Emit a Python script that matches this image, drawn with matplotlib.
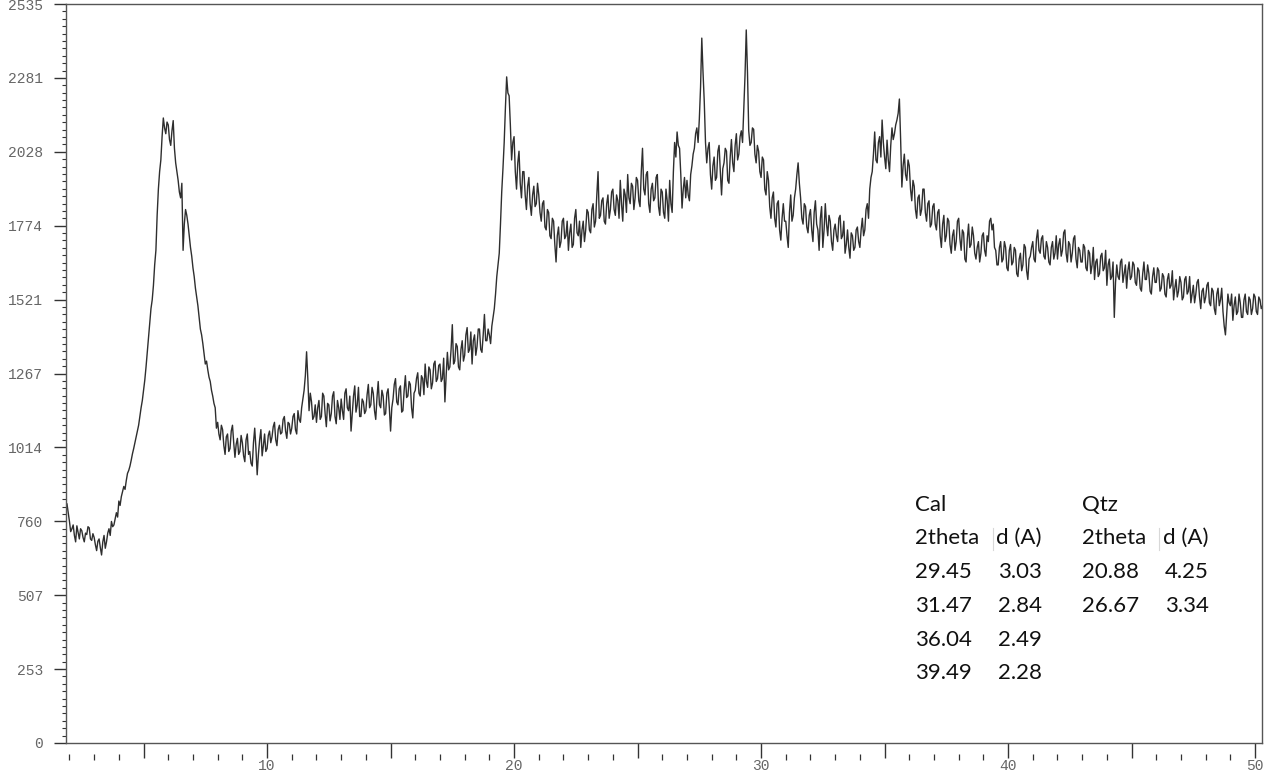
import numpy as np
import matplotlib
matplotlib.use('Agg')
import matplotlib.pyplot as plt
from matplotlib.ticker import FixedLocator, MultipleLocator

# XRD scan, 2theta from 1.9 deg in 0.05 deg steps (counts)
start_2theta = 1.9
step_2theta = 0.05

counts_02_10 = [
    820, 790,
    760, 725, 735, 748, 712, 690, 745, 722, 700, 735, 728, 705, 690, 720, 715, 742, 738, 700, 695, 718,
    705, 680, 660, 692, 700, 670, 645, 690, 712, 668, 690, 720, 735, 712, 760, 742, 748, 770, 790, 775,
    830, 815, 845, 862, 880, 870, 900, 925, 935, 950, 970, 992, 1010, 1030, 1050, 1070, 1090, 1120, 1150, 1175,
    1210, 1245, 1290, 1340, 1390, 1440, 1490, 1520, 1570, 1640, 1690, 1810, 1900, 1960, 2000, 2080, 2144, 2110, 2090, 2130,
    2120, 2070, 2050, 2100, 2135, 2040, 1990, 1960, 1930, 1890, 1870, 1920, 1690, 1780, 1830, 1810, 1780, 1740, 1700, 1670,
    1630, 1600, 1560, 1530, 1500, 1460, 1420, 1400, 1370, 1335, 1300, 1310, 1280, 1255, 1240, 1210, 1190, 1165, 1150, 1080,
    1100, 1060, 1040, 1090, 1075, 1020, 990, 1050, 1060, 1000, 1010, 1070, 1090, 1030, 980, 1025, 1045, 990, 1000, 1055,
    1030, 985, 965, 1040, 1060, 990, 1000, 960, 950, 1030, 1080, 1010, 920, 990, 1040, 1075, 985, 1020, 1060, 1000,
]
counts_10_20 = [
    1010, 1055, 1070, 1030, 1050, 1085, 1100, 1040, 1020, 1075, 1090, 1060, 1065, 1110, 1120, 1070, 1045, 1100, 1095, 1060,
    1080, 1120, 1130, 1075, 1060, 1140, 1110, 1100, 1150, 1180, 1210, 1260, 1342, 1250, 1140, 1200, 1170, 1110, 1120, 1160,
    1100, 1150, 1175, 1110, 1120, 1200, 1190, 1130, 1085, 1165, 1160, 1105, 1130, 1190, 1205, 1120, 1095, 1175, 1150, 1110,
    1180, 1140, 1110, 1200, 1215, 1150, 1140, 1190, 1070, 1130, 1190, 1225, 1135, 1160, 1220, 1120, 1120, 1180, 1170, 1130,
    1140, 1195, 1230, 1150, 1160, 1220, 1200, 1140, 1110, 1185, 1240, 1160, 1150, 1210, 1190, 1125, 1130, 1200, 1215, 1150,
    1070, 1150, 1180, 1230, 1250, 1170, 1160, 1215, 1225, 1135, 1140, 1210, 1260, 1185, 1190, 1240, 1230, 1150, 1115, 1200,
    1210, 1250, 1270, 1200, 1190, 1260, 1250, 1195, 1300, 1240, 1220, 1290, 1280, 1215, 1235, 1300, 1310, 1240, 1250, 1295,
    1300, 1240, 1250, 1320, 1170, 1260, 1340, 1280, 1290, 1350, 1435, 1300, 1310, 1370, 1360, 1290, 1280, 1350, 1380, 1310,
    1330, 1400, 1425, 1340, 1350, 1410, 1300, 1380, 1400, 1330, 1360, 1420, 1420, 1350, 1340, 1400, 1470, 1380, 1380, 1420,
    1400, 1370, 1430, 1460, 1490, 1540, 1600, 1640, 1680, 1780, 1890, 1970, 2060, 2180, 2285, 2230, 2220, 2120, 2000, 2060,
]
counts_20_30 = [
    2080, 1960, 1900, 1990, 2030, 1920, 1870, 1960, 1960, 1880, 1830, 1910, 1940, 1850, 1810, 1880, 1910, 1840, 1850, 1920,
    1880, 1820, 1790, 1850, 1860, 1770, 1760, 1830, 1820, 1740, 1730, 1800, 1790, 1710, 1650, 1740, 1770, 1700, 1720, 1790,
    1800, 1730, 1740, 1790, 1690, 1750, 1780, 1700, 1710, 1800, 1830, 1750, 1740, 1790, 1700, 1760, 1790, 1720, 1760, 1830,
    1820, 1760, 1750, 1830, 1850, 1770, 1790, 1880, 1960, 1800, 1810, 1860, 1870, 1790, 1780, 1850, 1880, 1800, 1830, 1890,
    1900, 1830, 1810, 1880, 1860, 1800, 1930, 1850, 1790, 1900, 1880, 1820, 1950, 1870, 1850, 1920, 1910, 1830, 1870, 1940,
    1930, 1860, 1840, 1960, 2040, 1900, 1880, 1950, 1960, 1850, 1820, 1900, 1920, 1860, 1870, 1940, 1950, 1840, 1810, 1900,
    1890, 1820, 1800, 1900, 1860, 1790, 1930, 1850, 1820, 1960, 2060, 2010, 2096, 2050, 2040, 1950, 1835, 1900, 1940, 1870,
    1930, 1880, 1860, 1950, 1980, 2020, 2040, 2090, 2110, 2060, 2140, 2250, 2418, 2300, 2200, 2060, 1990, 2040, 2060, 1950,
    1900, 1980, 2010, 1930, 1940, 2030, 2050, 1960, 1880, 1970, 1990, 2040, 2030, 1930, 1920, 2010, 2070, 1990, 1960, 2050,
    2090, 2000, 2020, 2080, 2100, 2060, 2180, 2290, 2446, 2300, 2100, 2050, 2060, 2110, 2105, 2020, 1990, 2050, 2030, 1960,
]
counts_30_40 = [
    1940, 2010, 2000, 1900, 1880, 1960, 1930, 1840, 1800, 1870, 1890, 1800, 1770, 1850, 1860, 1760, 1725, 1800, 1850, 1790,
    1790, 1740, 1700, 1820, 1880, 1790, 1810, 1870, 1900, 1950, 1990, 1920, 1870, 1800, 1780, 1850, 1840, 1770, 1750, 1810,
    1830, 1760, 1720, 1820, 1860, 1780, 1760, 1690, 1800, 1840, 1700, 1760, 1850, 1780, 1740, 1810, 1790, 1720, 1690, 1760,
    1780, 1740, 1720, 1800, 1810, 1730, 1740, 1790, 1680, 1710, 1760, 1700, 1663, 1750, 1740, 1690, 1700, 1760, 1770, 1720,
    1700, 1760, 1800, 1740, 1760, 1830, 1850, 1800, 1900, 1940, 1960, 2020, 2096, 2000, 1990, 2060, 2080, 2010, 2137, 2060,
    2010, 1970, 2068, 2000, 1960, 2050, 2110, 2070, 2090, 2120, 2137, 2160, 2209, 2070, 1907, 1980, 2020, 1950, 1930, 2000,
    1980, 1900, 1860, 1930, 1910, 1830, 1800, 1870, 1880, 1810, 1830, 1900, 1900, 1820, 1790, 1850, 1860, 1770, 1780, 1840,
    1850, 1780, 1760, 1820, 1830, 1740, 1700, 1780, 1810, 1720, 1740, 1800, 1790, 1710, 1680, 1740, 1760, 1690, 1720, 1790,
    1800, 1730, 1690, 1760, 1750, 1660, 1650, 1730, 1780, 1700, 1710, 1770, 1740, 1680, 1660, 1700, 1720, 1650, 1680, 1740,
    1750, 1690, 1670, 1740, 1720, 1790, 1800, 1760, 1780, 1700, 1690, 1640, 1640, 1700, 1720, 1650, 1660, 1720, 1700, 1630,
]
counts_40_50 = [
    1620, 1690, 1710, 1640, 1650, 1700, 1690, 1610, 1600, 1660, 1680, 1620, 1640, 1710, 1700, 1620, 1590, 1660, 1670, 1700,
    1720, 1660, 1650, 1730, 1760, 1690, 1680, 1730, 1740, 1670, 1660, 1720, 1700, 1650, 1640, 1700, 1720, 1660, 1680, 1740,
    1660, 1710, 1730, 1670, 1690, 1750, 1760, 1680, 1650, 1720, 1710, 1650, 1680, 1730, 1740, 1660, 1630, 1700, 1690, 1650,
    1650, 1710, 1700, 1630, 1620, 1690, 1680, 1610, 1640, 1700, 1590, 1650, 1660, 1600, 1610, 1670, 1680, 1620, 1630, 1690,
    1570, 1640, 1660, 1590, 1600, 1650, 1460, 1580, 1640, 1600, 1590, 1650, 1660, 1580, 1610, 1640, 1560, 1620, 1650, 1590,
    1600, 1650, 1640, 1580, 1570, 1630, 1620, 1560, 1550, 1610, 1650, 1590, 1590, 1640, 1610, 1550, 1540, 1600, 1630, 1580,
    1580, 1630, 1620, 1550, 1560, 1610, 1600, 1540, 1530, 1590, 1610, 1560, 1570, 1620, 1520, 1560, 1590, 1530, 1550, 1600,
    1580, 1520, 1530, 1590, 1600, 1540, 1550, 1600, 1510, 1540, 1570, 1510, 1540, 1580, 1590, 1530, 1490, 1550, 1560, 1510,
    1530, 1570, 1580, 1510, 1500, 1560, 1550, 1490, 1470, 1540, 1560, 1500, 1520, 1560, 1480, 1430, 1400, 1470, 1540, 1510,
    1500, 1540, 1450, 1500, 1530, 1470, 1480, 1540, 1510, 1460, 1460, 1520, 1540, 1480, 1470, 1530, 1520, 1470, 1490, 1540,
    1530, 1480, 1470, 1530, 1520, 1490, 1500,
]

y_tick_labels = ['0', '253', '507', '760', '1014', '1267', '1521',
                 '1774', '2028', '2281', '2535']
x_major = [5, 10, 15, 20, 25, 30, 35, 40, 45, 50]
x_labels = ['', '10', '', '20', '', '30', '', '40', '', '50']

# peak table
cal_2theta = ['29.45', '31.47', '36.04', '39.49']
cal_d = ['3.03', '2.84', '2.49', '2.28']
qtz_2theta = ['20.88', '26.67']
qtz_d = ['4.25', '3.34']

counts = np.array(counts_02_10 + counts_10_20 + counts_20_30 + counts_30_40 + counts_40_50)
two_theta = start_2theta + step_2theta * np.arange(len(counts))

W, H = 1273, 776
fig = plt.figure(figsize=(W / 100, H / 100), dpi=100)
ax = fig.add_axes([66 / W, 33 / H, (1262 - 66) / W, (743 - 4) / H])

ax.plot(two_theta, counts, color='#2e2e2e', lw=1.0)

ax.set_xlim(1.86, 50.28)
ax.set_ylim(0, 2535)

spine_col = '#555555'
for s in ax.spines.values():
    s.set_color(spine_col)
    s.set_linewidth(1.0)

tick_font = dict(family='Liberation Mono', size=10.5)
ax.yaxis.set_major_locator(FixedLocator([i * 253.5 for i in range(11)]))
ax.set_yticklabels(y_tick_labels, color='#666666', **tick_font)
ax.yaxis.set_minor_locator(MultipleLocator(25.35))
ax.tick_params(axis='y', which='major', direction='out', length=8.6, width=1,
               color='#333333', pad=8)
ax.tick_params(axis='y', which='minor', direction='out', length=3, width=0.8,
               color='#333333')

ax.xaxis.set_major_locator(FixedLocator(x_major))
ax.set_xticklabels(x_labels, color='#666666', **tick_font)
ax.tick_params(axis='x', which='major', direction='out', length=11, width=1,
               color='#333333', pad=0.5)

# small detached minor ticks under the x axis
minor_x = [v for v in range(2, 51) if v % 5 != 0]
ax.plot(minor_x, [-0.0183] * len(minor_x), transform=ax.get_xaxis_transform(),
        ls='none', marker='|', ms=4, mew=0.9, color='#333333', clip_on=False)

# peak table text
txt = dict(family='Lato', size=16, color='#111111', va='center', ha='left')
def put(px, py, s):
    fig.text(px / W, 1 - py / H, s, **txt)

row_y = [505, 538, 572, 606, 640, 673]
put(915, row_y[0], 'Cal')
put(915, row_y[1], '2theta')
put(996, row_y[1], 'd (A)')
for i, (a, b) in enumerate(zip(cal_2theta, cal_d)):
    put(915, row_y[2 + i], a)
    put(998, row_y[2 + i], b)
put(1082, row_y[0], 'Qtz')
put(1082, row_y[1], '2theta')
put(1163, row_y[1], 'd (A)')
for i, (a, b) in enumerate(zip(qtz_2theta, qtz_d)):
    put(1082, row_y[2 + i], a)
    put(1165, row_y[2 + i], b)

# faint cell separators
for sx in (992.5, 1158.5):
    fig.add_artist(plt.Line2D([sx / W, sx / W], [1 - 528 / H, 1 - 550 / H],
                              color='#d8d8d8', lw=0.8))

fig.savefig('out.png', dpi=100)
